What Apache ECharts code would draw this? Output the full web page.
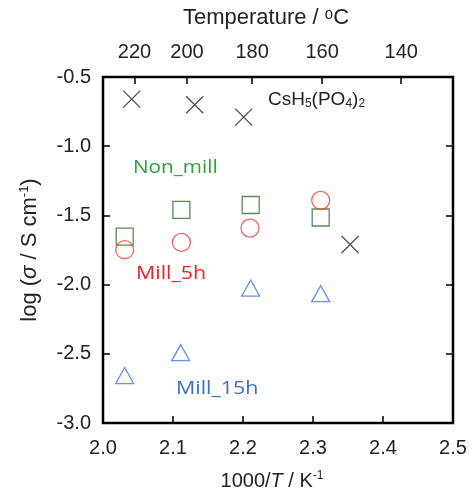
<!DOCTYPE html>
<html>
<head>
<meta charset="utf-8">
<script src="https://cdn.jsdelivr.net/npm/echarts@6/dist/echarts.min.js"></script>
<style>
  html, body { margin: 0; padding: 0; background: #fff; }
  #main { width: 475px; height: 496px; }
</style>
</head>
<body>
<div id="main"></div>
<script>
// data: [1000/T, log sigma]
const csh5 = [[2.041, -0.66], [2.131, -0.70], [2.201, -0.79], [2.353, -1.71]];
const nonMill = [[2.031, -1.654], [2.112, -1.46], [2.211, -1.425], [2.311, -1.515]];
const mill5h = [[2.031, -1.748], [2.112, -1.695], [2.210, -1.592], [2.311, -1.391]];
const mill15h = [[2.031, -2.657], [2.111, -2.492], [2.211, -2.025], [2.311, -2.066]];

// top temperature axis
const topTickPos = [2.045, 2.12, 2.213, 2.313, 2.426];
const topTickLabels = ['220', '200', '180', '160', '140'];

const font = 'Arial, "Liberation Sans", sans-serif';
const chart = echarts.init(document.getElementById('main'));

const hollow = (c) => ({ color: 'rgba(0,0,0,0)', borderColor: c, borderWidth: 1.3 });
const tick = { inside: true, length: 7, lineStyle: { color: '#000', width: 1.5 } };

chart.setOption({
  animation: false,
  backgroundColor: '#fff',
  grid: { left: 103, top: 77, width: 350, height: 348, show: true, borderColor: '#000', borderWidth: 2.5, backgroundColor: 'transparent' },
  xAxis: [{
    type: 'value', position: 'bottom', min: 2.0, max: 2.5, interval: 0.1,
    axisLine: { show: false },
    axisTick: tick,
    splitLine: { show: false },
    axisLabel: { color: '#222', fontSize: 20, fontFamily: font, margin: 15, formatter: v => v.toFixed(1) },
    name: '{a|1000/}{i|T}{a| / K}{s|-1}',
    nameLocation: 'middle', nameGap: 47,
    nameTextStyle: {
      padding: [0, 12, 0, 0],
      rich: {
        a: { fontSize: 20, fontFamily: font, color: '#222' },
        i: { fontSize: 20, fontFamily: font, fontStyle: 'italic', color: '#222' },
        s: { fontSize: 12, fontFamily: font, color: '#222', verticalAlign: 'top', padding: [0, 0, 10, 0] }
      }
    }
  }, {
    type: 'value', position: 'top', min: 2.0, max: 2.5,
    axisLine: { show: false },
    axisTick: Object.assign({ customValues: topTickPos }, tick),
    splitLine: { show: false },
    axisLabel: {
      customValues: topTickPos, color: '#222', fontSize: 20, fontFamily: font, margin: 15,
      formatter: v => topTickLabels[topTickPos.indexOf(v)]
    },
    name: 'Temperature / \u1d52C',
    nameLocation: 'middle', nameGap: 48,
    nameTextStyle: { fontSize: 22, fontFamily: font, color: '#222', padding: [0, 24, 0, 0] }
  }],
  yAxis: [{
    type: 'value', position: 'left', min: -3.0, max: -0.5, interval: 0.5,
    axisLine: { show: false },
    axisTick: tick,
    splitLine: { show: false },
    axisLabel: { color: '#222', fontSize: 20, fontFamily: font, margin: 12, formatter: v => v.toFixed(1) },
    name: '{a|log (}{i|σ}{a| / S cm}{s|-1}{a|)}',
    nameLocation: 'middle', nameGap: 62, nameRotate: 90,
    nameTextStyle: {
      rich: {
        a: { fontSize: 22, fontFamily: font, color: '#222' },
        i: { fontSize: 22, fontFamily: font, fontStyle: 'italic', color: '#222' },
        s: { fontSize: 13, fontFamily: font, color: '#222', verticalAlign: 'top', padding: [0, 0, 10, 0] }
      }
    }
  }, {
    type: 'value', position: 'right', min: -3.0, max: -0.5, interval: 0.5,
    axisLine: { show: false },
    axisTick: tick,
    splitLine: { show: false },
    axisLabel: { show: false }
  }],
  series: [{
    type: 'scatter', data: csh5, symbol: 'path://M0,0L10,10M10,0L0,10', symbolSize: 17,
    itemStyle: { color: 'rgba(0,0,0,0)', borderColor: '#222', borderWidth: 1.3 }
  }, {
    type: 'scatter', data: nonMill, symbol: 'rect', symbolSize: 17,
    itemStyle: hollow('#2f6e2f')
  }, {
    type: 'scatter', data: mill5h, symbol: 'circle', symbolSize: 18,
    itemStyle: hollow('#f03c3c')
  }, {
    type: 'scatter', data: mill15h, symbol: 'triangle', symbolSize: [18, 16],
    itemStyle: hollow('#4a72e6')
  }],
  graphic: [{
    type: 'text', x: 268, y: 90,
    style: {
      text: '{a|CsH}{s|5}{a|(PO}{s|4}{a|)}{s|2}',
      rich: {
        a: { fontSize: 19, fontFamily: font, fill: '#222' },
        s: { fontSize: 12, fontFamily: font, fill: '#222', verticalAlign: 'bottom', padding: [8, 0, 0, 0] }
      }
    }
  }, {
    type: 'text', x: 133, y: 159, scaleX: 1.15,
    style: { text: 'Non_mill', fontSize: 18, fontFamily: '"Open Sans", sans-serif', fill: '#2aa33c' }
  }, {
    type: 'text', x: 136, y: 265, scaleX: 1.19,
    style: { text: 'Mill_5h', fontSize: 18, fontFamily: '"Open Sans", sans-serif', fill: '#e82028' }
  }, {
    type: 'text', x: 176, y: 380, scaleX: 1.19,
    style: { text: 'Mill_15h', fontSize: 18, fontFamily: '"Open Sans", sans-serif', fill: '#3a6ec8' }
  }]
});
</script>
</body>
</html>
